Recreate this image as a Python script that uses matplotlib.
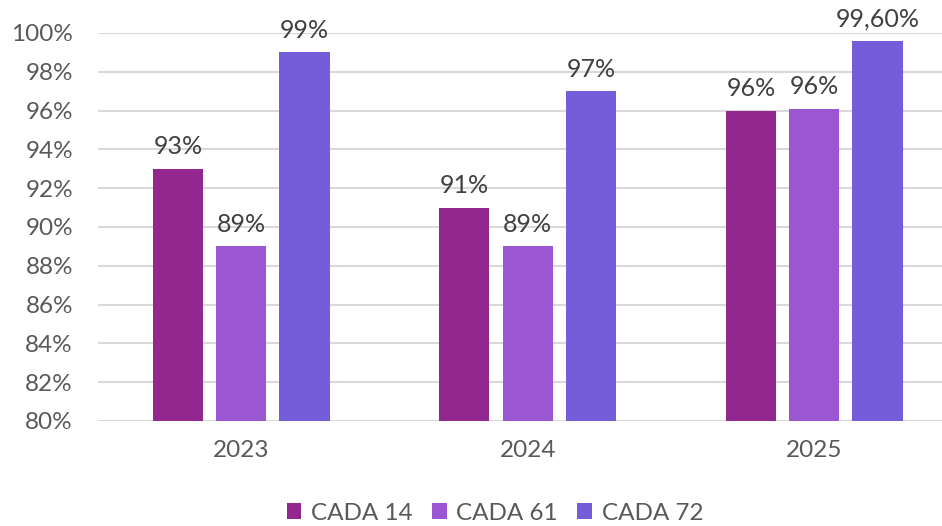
import numpy as np
import matplotlib
matplotlib.use("Agg")
import matplotlib.pyplot as plt

# data
years = ["2023", "2024", "2025"]
series = ["CADA 14", "CADA 61", "CADA 72"]
cada14 = [93, 91, 96]
cada61 = [89, 89, 96.1]
cada72 = [99, 97, 99.6]
labels14 = ["93%", "91%", "96%"]
labels61 = ["89%", "89%", "96%"]
labels72 = ["99%", "97%", "99,60%"]
yticks = list(range(80, 101, 2))

colors = ["#92278F", "#9B57D3", "#755DD9"]

plt.rcParams['font.family'] = ['Lato', 'DejaVu Sans']

fig = plt.figure(figsize=(9.42, 5.26), dpi=100)
ax = fig.add_axes([98 / 942, 1 - 421 / 526, 844 / 942, (421 - 33) / 526])

x = np.arange(len(years))
width = 0.175
step = 0.221
values = [cada14, cada61, cada72]
texts = [labels14, labels61, labels72]
for i in range(3):
    pos = x + (i - 1) * step
    ax.bar(pos, np.array(values[i]) - 80, width, bottom=80, color=colors[i],
           label=series[i], zorder=3)
    for p, v, t in zip(pos, values[i], texts[i]):
        ax.text(p, v + 0.55, t, ha="center", va="bottom", fontsize=18,
                color="#404040")

ax.set_ylim(80, 100)
ax.set_xlim(-0.5, 2.446)
ax.set_yticks(yticks)
ax.set_yticklabels([str(t) + "%" for t in yticks])
ax.set_xticks(x)
ax.set_xticklabels(years)
ax.tick_params(axis="both", length=0, labelsize=17.5, labelcolor="#595959")
ax.tick_params(axis="x", pad=14)
ax.tick_params(axis="y", pad=18)
ax.grid(axis="y", color="#D9D9D9", linewidth=1.5, zorder=0)
for s in ax.spines.values():
    s.set_visible(False)

fig.legend(loc="center", bbox_to_anchor=(495 / 942, 1 - 513 / 526), ncol=3,
           frameon=False, fontsize=17.5, labelcolor="#595959",
           handlelength=0.6, handleheight=0.6, handletextpad=0.4,
           columnspacing=0.8)

fig.savefig("out.png", dpi=100)
